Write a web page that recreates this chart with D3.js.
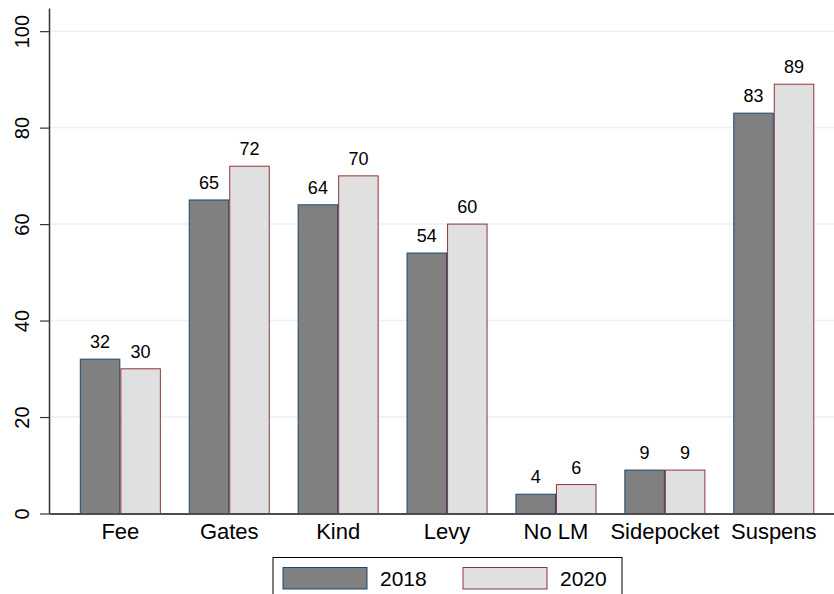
<!DOCTYPE html>
<html>
<head>
<meta charset="utf-8">
<script src="https://cdn.jsdelivr.net/npm/d3@7"></script>
<style>
  body { margin: 0; background: #fff; }
  svg { display: block; font-family: Arial, "Liberation Sans", sans-serif; }
</style>
</head>
<body>
<div id="chart"></div>
<script>
// data
var categories = ["Fee", "Gates", "Kind", "Levy", "No LM", "Sidepocket", "Suspens"];
var values2018 = [32, 65, 64, 54, 4, 9, 83];
var values2020 = [30, 72, 70, 60, 6, 9, 89];
var seriesNames = ["2018", "2020"];
var yTicks = [0, 20, 40, 60, 80, 100];

var width = 834,
    height = 594;

var fills = ["#808080", "#e0e0e0"],
    strokes = ["#1a476f", "#90353b"];

var svg = d3.select("#chart")
  .append("svg")
    .attr("width", width)
    .attr("height", height);

// scales
var x = d3.scaleBand()
  .domain(categories)
  .range([49, 834])
  .paddingInner(0.256)
  .paddingOuter(0.232)
  .align(0.61);

var x1 = d3.scaleBand()
  .domain(seriesNames)
  .range([0, x.bandwidth()]);

var y = d3.scaleLinear()
  .domain([0, 104.8])
  .range([513.5, 8]);

// grid lines
svg.append("g")
  .selectAll("line")
  .data(yTicks.filter(function(d) { return d > 0; }))
  .enter()
  .append("line")
    .attr("x1", 49)
    .attr("x2", width)
    .attr("y1", function(d) { return y(d); })
    .attr("y2", function(d) { return y(d); })
    .attr("stroke", "#eaf2f3")
    .attr("stroke-width", 1.5);

// bars
var rows = categories.map(function(c, i) {
  return { cat: c, vals: [values2018[i], values2020[i]] };
});

var groups = svg.append("g")
  .selectAll("g")
  .data(rows)
  .enter()
  .append("g")
    .attr("transform", function(d) { return "translate(" + x(d.cat) + ",0)"; });

groups.selectAll("rect")
  .data(function(d) { return d.vals.map(function(v, k) { return { k: k, v: v }; }); })
  .enter()
  .append("rect")
    .attr("x", function(d) { return x1(seriesNames[d.k]) + 0.5; })
    .attr("y", function(d) { return y(d.v); })
    .attr("width", x1.bandwidth() - 1)
    .attr("height", function(d) { return y(0) - y(d.v); })
    .attr("fill", function(d) { return fills[d.k]; })
    .attr("stroke", function(d) { return strokes[d.k]; })
    .attr("stroke-width", 1);

// value labels
groups.selectAll("text")
  .data(function(d) { return d.vals.map(function(v, k) { return { k: k, v: v }; }); })
  .enter()
  .append("text")
    .attr("x", function(d) { return x1(seriesNames[d.k]) + x1.bandwidth() / 2; })
    .attr("y", function(d) { return y(d.v) - 11; })
    .attr("text-anchor", "middle")
    .style("font-size", "18px")
    .text(function(d) { return d.v; });

// x axis
var xAxis = svg.append("g")
  .attr("transform", "translate(0," + y(0) + ")")
  .call(d3.axisBottom(x).tickSize(0).tickSizeOuter(0));
xAxis.select(".domain").attr("stroke", "#4d4d4d").attr("stroke-width", 2);
xAxis.selectAll("text")
  .attr("fill", "#000")
  .attr("dy", 0)
  .attr("y", 25.5)
  .style("font-size", "22px")
  .style("font-family", "Arial, 'Liberation Sans', sans-serif");

// y axis
var yAxis = svg.append("g")
  .attr("transform", "translate(49,0)")
  .call(d3.axisLeft(y).tickValues(yTicks).tickSize(9).tickSizeOuter(0));
yAxis.select(".domain").attr("stroke", "#333").attr("stroke-width", 1.5);
yAxis.selectAll(".tick line").attr("stroke", "#333").attr("stroke-width", 1.2);
yAxis.selectAll("text")
  .attr("fill", "#000")
  .attr("x", null)
  .attr("dy", null)
  .attr("transform", "translate(-20.5,0) rotate(-90)")
  .attr("text-anchor", "middle")
  .style("font-size", "20px")
  .style("font-family", "Arial, 'Liberation Sans', sans-serif");

// legend
var legend = svg.append("g");
legend.append("rect")
  .attr("x", 273)
  .attr("y", 557.5)
  .attr("width", 349)
  .attr("height", 50)
  .attr("fill", "#fff")
  .attr("stroke", "#000")
  .attr("stroke-width", 1);

var legendX = [283, 463];
seriesNames.forEach(function(name, k) {
  legend.append("rect")
    .attr("x", legendX[k])
    .attr("y", 567.5)
    .attr("width", 84)
    .attr("height", 21.5)
    .attr("fill", fills[k])
    .attr("stroke", strokes[k])
    .attr("stroke-width", 1);
  legend.append("text")
    .attr("x", legendX[k] + 97)
    .attr("y", 586)
    .style("font-size", "21px")
    .text(name);
});
</script>
</body>
</html>
